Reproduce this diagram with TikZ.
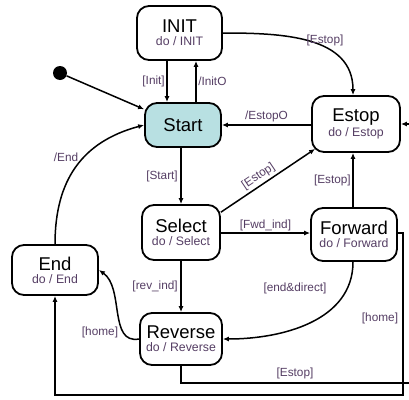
\documentclass[tikz,border=0pt]{standalone}
\usepackage{fontspec}
\setmainfont{Liberation Sans}
\usetikzlibrary{arrows.meta}
\definecolor{lab}{RGB}{85,62,100}
\definecolor{startfill}{RGB}{184,224,226}
\tikzset{
  state/.style={draw=black, line width=1.8pt, rounded corners=12pt, inner sep=0pt, align=center, fill=white},
  arr/.style={-{Latex[length=6pt,width=5pt]}, line width=1.5pt},
  lbl/.style={text=lab, font=\fontsize{11.8}{13}\selectfont, inner sep=1.5pt},
}
\newcommand{\stname}[2]{{\fontsize{18.5}{19}\selectfont #1}\\[1pt]{\fontsize{12.3}{13}\selectfont\color{lab}#2}}
\begin{document}
\begin{tikzpicture}[x=1pt,y=-1pt]
\path[use as bounding box, clip] (0,0) rectangle (409,399);
\fill[white] (0,0) rectangle (409,399);

\node[state, minimum width=85pt, minimum height=54pt] (init) at (179.5,33) {\stname{INIT}{do / INIT}};
\node[state, fill=startfill, minimum width=76pt, minimum height=44pt] (start) at (183,125) {\fontsize{18.5}{19}\selectfont Start};
\node[state, minimum width=88pt, minimum height=56pt] (estop) at (356,124) {\stname{Estop}{do / Estop}};
\node[state, minimum width=78pt, minimum height=55pt] (select) at (181,232.5) {\stname{Select}{do / Select}};
\node[state, minimum width=86pt, minimum height=53pt] (forward) at (354,234.5) {\stname{Forward}{do / Forward}};
\node[state, minimum width=86pt, minimum height=50pt] (endn) at (55,270) {\stname{End}{do / End}};
\node[state, minimum width=82pt, minimum height=52pt] (reverse) at (181,339) {\stname{Reverse}{do / Reverse}};
\node[circle, fill=black, minimum size=14pt, inner sep=0pt] (dot) at (60,73) {};

\coordinate (c1) at (430,383);
\coordinate (c2) at (403,395);

% initial
\draw[arr] (dot) -- (start.158);
% INIT <-> Start
\draw[arr] ([xshift=-12.5pt]init.south) -- node[lbl, left] {[Init]} ([xshift=-16pt]start.north);
\draw[arr] ([xshift=13pt]start.north) -- node[lbl, right] {/InitO} ([xshift=16.5pt]init.south);
% INIT -> Estop
\draw[arr] (init.east) to[out=0, in=90, looseness=1.05] ([xshift=-3pt]estop.north);
\node[lbl] (l1) at (325,40) {[Estop]};
% Estop -> Start
\draw[arr] (start.east -| estop.west) -- node[lbl, above, yshift=1pt] {/EstopO} (start.east);
% Select -> Estop
\draw[arr] (select.27) -- node[lbl, above, sloped, pos=0.45, yshift=1pt] {[Estop]} ([xshift=4pt,yshift=4pt]estop.south west);
% Forward -> Estop
\draw[arr] ([xshift=-1pt]forward.north) -- node[lbl, left] {[Estop]} ([xshift=-1pt]forward.north |- estop.south);
% Start -> Select
\draw[arr] (select.north |- start.south) -- node[lbl, left, xshift=-1pt] {[Start]} (select.north);
% Select -> Forward
\draw[arr] ([yshift=-0.5pt]select.east) -- node[lbl, above] {[Fwd\_ind]} ([yshift=-0.5pt]select.east -| forward.west);
% Select -> Reverse
\draw[arr] (select.south) -- node[lbl, left, xshift=-1pt] {[rev\_ind]} (reverse.north);
% Forward -> Reverse
\draw[arr] ([xshift=-1pt]forward.south) to[out=-90, in=0] (reverse.east);
\node[lbl] (l2) at (295,288) {[end\&direct]};
% Reverse -> End
\draw[arr] (reverse.west) to[out=190, in=-35] (endn.east);
\node[lbl] (l3) at (100,332) {[home]};
% End -> Start
\draw[arr] (endn.north) to[out=90, in=195, looseness=1.1] (start.west);
\node[lbl] (l4) at (66,157) {/End};
% Forward -> End [home]
\draw[arr] ([yshift=1.5pt]forward.east) -| (c2) -| (endn.south);
\node[lbl] (l5) at (380,318) {[home]};
% Reverse -> Estop [Estop]
\draw[arr] (reverse.south) |- (c1) |- (estop.east);
\node[lbl] (l6) at (295,373) {[Estop]};
\end{tikzpicture}
\end{document}
